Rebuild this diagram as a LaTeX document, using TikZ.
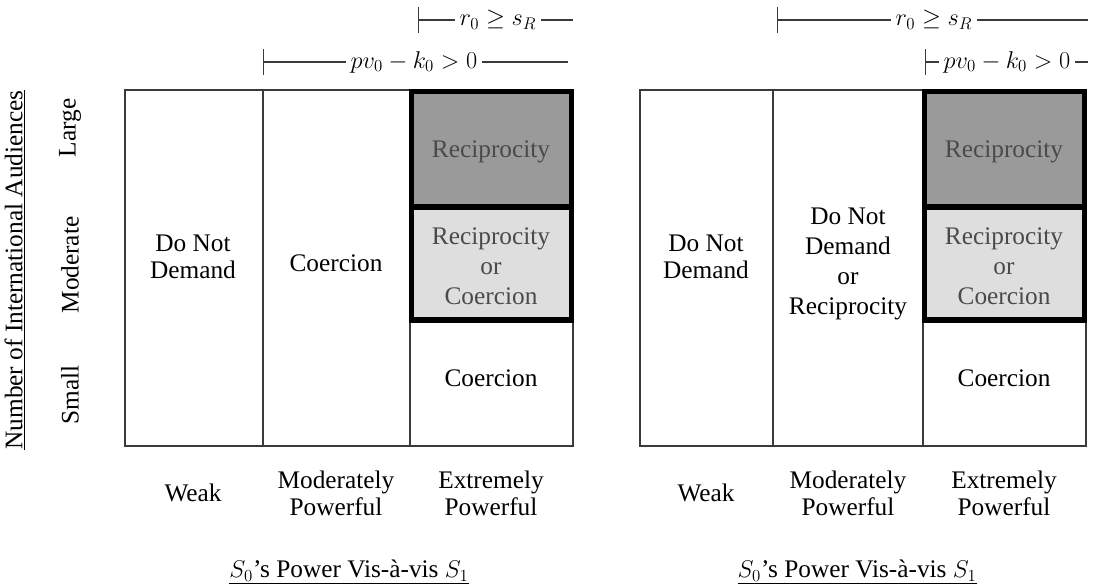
\documentclass[tikz,border=0pt]{standalone}
\usepackage{fontspec}
\setmainfont{Liberation Serif}
\usetikzlibrary{arrows.meta,positioning}
\definecolor{darkcell}{HTML}{9A9A9A}
\definecolor{lightcell}{HTML}{DEDEDE}
\definecolor{celltext}{HTML}{4A4A4A}
\definecolor{rule}{HTML}{3A3A3A}

\tikzset{
  cellline/.style={rule, line width=1.1pt},
  framebox/.style={black, line width=3.6pt},
  txt/.style={font=\fontsize{18}{19.2}\selectfont, align=center, inner sep=0pt},
  stack/.style={font=\fontsize{18}{21.3}\selectfont, align=center, inner sep=0pt},
  shaded/.style={text=celltext},
  mathlbl/.style={font=\fontsize{17}{19.2}\selectfont, inner ysep=0pt, inner xsep=3pt},
  bracket/.style={rule, line width=0.9pt, {Bar[width=0.65cm]}-},
}

\begin{document}
\begin{tikzpicture}[x=0.025cm, y=-0.025cm]
    \useasboundingbox (0,0) rectangle (1097,587);

    % Left panel: grid and highlighted cells
    \fill[darkcell] (410,90) rectangle (573,207);
    \fill[lightcell] (410,207) rectangle (573,320);
    \draw[cellline] (125,90) rectangle (573,446);
    \draw[cellline] (263,90) -- (263,446);
    \draw[cellline] (410,90) -- (410,446);
    \draw[framebox] (411.8,91.8) rectangle (571.2,320);
    \draw[framebox] (411.8,207) -- (571.2,207);

    % Right panel: grid and highlighted cells
    \fill[darkcell] (923,90) rectangle (1086,207);
    \fill[lightcell] (923,207) rectangle (1086,320);
    \draw[cellline] (640,90) rectangle (1086,446);
    \draw[cellline] (773,90) -- (773,446);
    \draw[cellline] (923,90) -- (923,446);
    \draw[framebox] (924.8,91.8) rectangle (1084.2,320);
    \draw[framebox] (924.8,207) -- (1084.2,207);

    % Cell texts, left
    \node[txt] (ndL) at (193,257) {Do Not\\Demand};
    \node[txt] (coL) at (336,263) {Coercion};
    \node[txt, shaded] (reL) at (491,152) {Reciprocity};
    \node[stack, shaded] (rcL) at (491,266) {Reciprocity\\or\\Coercion};
    \node[txt] (csL) at (491,378) {Coercion};

    % Cell texts, right
    \node[txt] (ndR) at (706,257) {Do Not\\Demand};
    \node[stack] (nrR) at (848,264) {Do Not\\Demand\\or\\Reciprocity};
    \node[txt, shaded] (reR) at (1004,152) {Reciprocity};
    \node[stack, shaded] (rcR) at (1004,266) {Reciprocity\\or\\Coercion};
    \node[txt] (csR) at (1004,378) {Coercion};

    % Conditions above the panels
    \coordinate (rLa) at (418,20);  \coordinate (rLb) at (573,20);
    \coordinate (pLa) at (263,62);  \coordinate (pLb) at (568,62);
    \coordinate (rRa) at (777,20);  \coordinate (rRb) at (1088,20);
    \coordinate (pRa) at (925,62);  \coordinate (pRb) at (1088,62);
    \node[mathlbl] (rL) at (498,20) {$r_0 \geq s_R$};
    \node[mathlbl] (pL) at (414,62) {$pv_0 - k_0 > 0$};
    \node[mathlbl] (rR) at (934,20) {$r_0 \geq s_R$};
    \node[mathlbl] (pR) at (1007,62) {$pv_0 - k_0 > 0$};
    \draw[bracket] (rLa) -- (rL.west);
    \draw[rule, line width=0.9pt] (rL.east) -- (rLb);
    \draw[bracket] (pLa) -- (pL.west);
    \draw[rule, line width=0.9pt] (pL.east) -- (pLb);
    \draw[bracket] (rRa) -- (rR.west);
    \draw[rule, line width=0.9pt] (rR.east) -- (rRb);
    \draw[bracket] (pRa) -- (pR.west);
    \draw[rule, line width=0.9pt] (pR.east) -- (pRb);

    % Vertical axis
    \node[txt, rotate=90] (ax) at (15,270) {\underline{Number of International Audiences}};
    \node[txt, rotate=90] (lg) at (70,128) {Large};
    \node[txt, rotate=90] (md) at (70,265) {Moderate};
    \node[txt, rotate=90] (sm) at (70,395) {Small};

    % Horizontal axes
    \node[txt] (wkL) at (193,493) {Weak};
    \node[txt] (mpL) at (336,493) {Moderately\\Powerful};
    \node[txt] (epL) at (491,493) {Extremely\\Powerful};
    \node[txt] (wkR) at (706,493) {Weak};
    \node[txt] (mpR) at (848,493) {Moderately\\Powerful};
    \node[txt] (epR) at (1004,493) {Extremely\\Powerful};
    \node[txt] (tL) at (349,572) {\underline{$S_0$’s Power Vis-à-vis $S_1$}};
    \node[txt] (tR) at (857,572) {\underline{$S_0$’s Power Vis-à-vis $S_1$}};
\end{tikzpicture}
\end{document}
